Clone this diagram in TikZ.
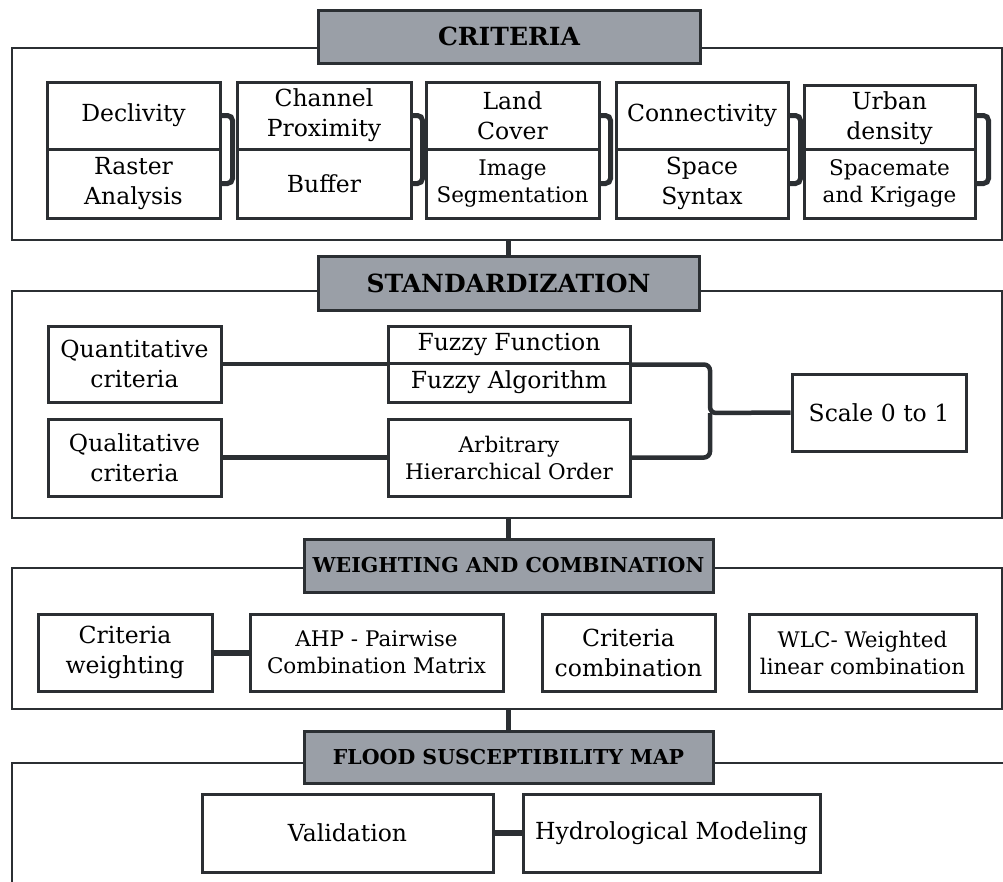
\documentclass[tikz,border=0pt]{standalone}
\usepackage{fontspec}
\setmainfont{DejaVu Serif}
\definecolor{linedark}{HTML}{2B2F33}
\definecolor{headgray}{HTML}{9A9FA7}

\begin{document}
\begin{tikzpicture}[x=1pt,y=-1pt,
    frame/.style={draw=linedark,line width=2.8pt,inner sep=0pt},
    head/.style={draw=linedark,fill=headgray,line width=3pt,inner sep=0pt,font=\bfseries\fontsize{25}{28}\selectfont},
    smallhead/.style={head,font=\bfseries\fontsize{20.5}{24}\selectfont},
    box/.style={draw=linedark,fill=white,line width=3pt,inner sep=0pt,align=center,font=\fontsize{23.5}{30}\selectfont},
    smallbox/.style={box,font=\fontsize{21.5}{27}\selectfont},
    brace/.style={draw=linedark,line width=5pt,rounded corners=5pt},
    link/.style={draw=linedark,line width=4.5pt,rounded corners=6pt}]
    \clip (0,0) rectangle (1003,881);
    \fill[white] (0,0) rectangle (1003,881);

    % criteria
    \node[frame,minimum width=990pt,minimum height=192pt] (critframe) at (507,144) {};
    \node[head,minimum width=382pt,minimum height=53pt] (crithead) at (509,36.5) {CRITERIA};
    \node[box,minimum width=173pt,minimum height=67pt] (decl) at (133.5,115.5) {Declivity};
    \node[box,minimum width=173pt,minimum height=69pt] (raster) at (133.5,183.5) {Raster\\Analysis};
    \node[box,minimum width=174pt,minimum height=67pt] (chan) at (324,115.5) {Channel\\Proximity};
    \node[box,minimum width=174pt,minimum height=69pt] (buffer) at (324,183.5) {Buffer};
    \node[box,minimum width=173pt,minimum height=67pt] (land) at (512.5,115.5) {Land\\Cover};
    \node[smallbox,minimum width=173pt,minimum height=69pt] (image) at (512.5,183.5) {Image\\Segmentation};
    \node[box,minimum width=172pt,minimum height=67pt] (conn) at (702,115.5) {Connectivity};
    \node[box,minimum width=172pt,minimum height=69pt] (space) at (702,183.5) {Space\\Syntax};
    \node[box,minimum width=171pt,minimum height=67pt] (urban) at (889.5,118.5) {Urban\\density};
    \node[smallbox,minimum width=171pt,minimum height=69pt] (spacemate) at (889.5,183.5) {Spacemate\\and Krigage};
    \draw[brace] (decl.east) -- ++(11,0) |- (raster.east);
    \draw[brace] (chan.east) -- ++(10,0) |- (buffer.east);
    \draw[brace] (land.east) -- ++(10,0) |- (image.east);
    \draw[brace] (conn.east) -- ++(11,0) |- (space.east);
    \draw[brace] (urban.east |- conn.east) -- ++(12,0) |- (spacemate.east);

    % standardization
    \node[frame,minimum width=990pt,minimum height=227pt] (stdframe) at (507,404.5) {};
    \node[head,minimum width=381pt,minimum height=54pt] (stdhead) at (508.5,283) {STANDARDIZATION};
    \draw[link] (stdhead.north |- critframe.south) -- (stdhead.north);
    \node[box,minimum width=173pt,minimum height=76pt] (quant) at (134.5,364) {Quantitative\\criteria};
    \node[box,minimum width=173pt,minimum height=77pt] (qual) at (134.5,457.5) {Qualitative\\criteria};
    \node[box,minimum width=242pt,minimum height=37pt] (fuzfun) at (509,344.5) {Fuzzy Function};
    \node[box,minimum width=242pt,minimum height=39pt] (fuzalg) at (509,382.5) {Fuzzy Algorithm};
    \node[smallbox,minimum width=242pt,minimum height=77pt] (arbit) at (509,457.5) {Arbitrary\\Hierarchical Order};
    \node[box,minimum width=174pt,minimum height=77pt] (scale) at (879,412.5) {Scale 0 to 1};
    \coordinate (join) at (710,413);
    \draw[link] (quant.east) -- (quant.east -| fuzfun.west);
    \draw[link] (qual.east) -- (arbit.west);
    \draw[link] (fuzfun.south east) -| (join) -- (scale.west);
    \draw[link] (arbit.east) -| (join);

    % weighting and combination
    \node[frame,minimum width=990pt,minimum height=141pt] (wframe) at (507,638.5) {};
    \node[smallhead,minimum width=409pt,minimum height=53pt] (whead) at (508.5,565.5) {WEIGHTING AND COMBINATION};
    \draw[link] (whead.north |- stdframe.south) -- (whead.north);
    \node[box,minimum width=174pt,minimum height=77pt] (critw) at (125,652.5) {Criteria\\weighting};
    \node[smallbox,minimum width=253pt,minimum height=77pt] (ahp) at (376.5,652.5) {AHP - Pairwise\\Combination Matrix};
    \node[box,minimum width=173pt,minimum height=77pt] (critc) at (628.5,652.5) {Criteria\\combination};
    \node[smallbox,minimum width=227pt,minimum height=77pt] (wlc) at (862.5,652.5) {WLC- Weighted\\linear combination};
    \draw[link,line width=6pt] (critw.east) -- (ahp.west);

    % flood susceptibility map
    \node[frame,minimum width=1010pt,minimum height=150pt] (fframe) at (517,838) {};
    \node[smallhead,minimum width=409pt,minimum height=52pt] (fhead) at (508.5,757) {FLOOD SUSCEPTIBILITY MAP};
    \draw[link] (fhead.north |- wframe.south) -- (fhead.north);
    \node[box,minimum width=291pt,minimum height=78pt] (valid) at (347.5,833) {Validation};
    \node[box,minimum width=297pt,minimum height=78pt] (hydro) at (671.5,833) {Hydrological Modeling};
    \draw[link,line width=6pt] (valid.east) -- (hydro.west);
\end{tikzpicture}
\end{document}
